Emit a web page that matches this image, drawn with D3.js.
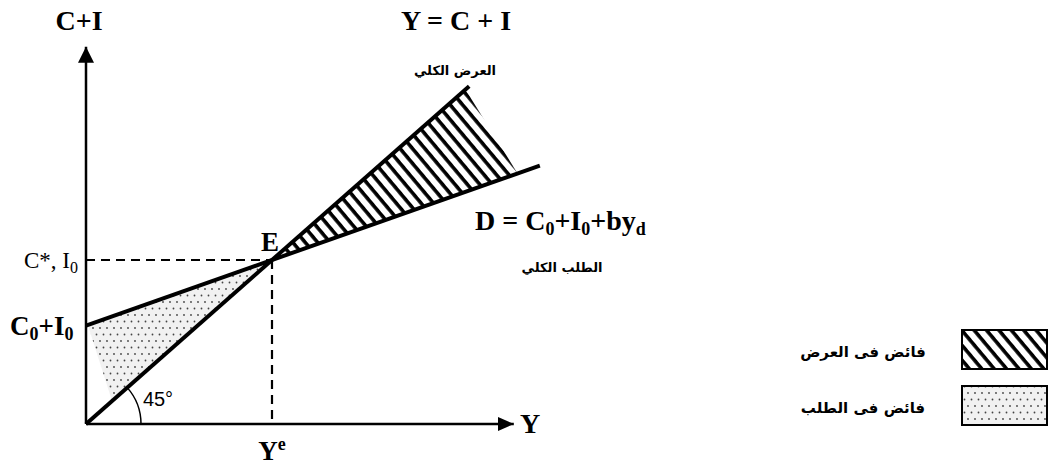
<!DOCTYPE html>
<html lang="en">
<head>
<meta charset="UTF-8">
<script src="https://d3js.org/d3.v7.min.js"></script>
<style>
  body { margin: 0; background: #fff; }
  #plot { position: absolute; width: 100%; height: 100%; }
  .lbl { font-family: "Liberation Serif", "Times New Roman", serif; font-weight: bold; }
  .ar { font-family: "DejaVu Sans", "Noto Sans", sans-serif; font-weight: bold; }
</style>
</head>
<body>
<div id="plot"></div>
<script>
// model values (same units on both axes)
const axisMax = 115;
const intercept = 30;          // C0 + I0
const slopeB = 0.4;            // b
const Ye = 50;                 // equilibrium income
const supplyEnd = 103;         // where Y = C + I line stops
const demandEnd = 122;         // where D line stops
const hatchEdge = [102, 116];  // supply x, demand x closing the hatched area
const dotEdge = [0.5, 7];      // demand x, supply x closing the dotted area
const legendItems = ["فائض فى العرض", "فائض فى الطلب"];

const W = 1049, H = 468;
const svg = d3.select("#plot").append("svg").attr("width", W).attr("height", H);

const x = d3.scaleLinear().domain([0, 100]).range([86, 458]);
const y = d3.scaleLinear().domain([0, 100]).range([424, 96]);
const demand = v => intercept + slopeB * v;

const defs = svg.append("defs");
// diagonal hatch
const hatch = defs.append("pattern").attr("id", "hatch")
  .attr("patternUnits", "userSpaceOnUse").attr("width", 9.5).attr("height", 9.5)
  .attr("patternTransform", "rotate(-40)");
hatch.append("rect").attr("width", 9.5).attr("height", 9.5).attr("fill", "#fff");
hatch.append("line").attr("x1", 2).attr("y1", 0).attr("x2", 2).attr("y2", 9.5)
  .attr("stroke", "#000").attr("stroke-width", 3.6);
// dotted fill
const dots = defs.append("pattern").attr("id", "dots")
  .attr("patternUnits", "userSpaceOnUse").attr("width", 7).attr("height", 13);
dots.append("rect").attr("width", 7).attr("height", 13).attr("fill", "#f1f1f1");
[[2, 3], [5.5, 9.5]].forEach(p => dots.append("circle")
  .attr("cx", p[0]).attr("cy", p[1]).attr("r", 0.9).attr("fill", "#444"));

// arrow markers
defs.append("marker").attr("id", "arrY").attr("viewBox", "0 0 16 16")
  .attr("refX", 16).attr("refY", 8).attr("markerWidth", 16).attr("markerHeight", 16)
  .attr("markerUnits", "userSpaceOnUse").attr("orient", "auto")
  .append("path").attr("d", "M0,0L16,8L0,16Z").attr("fill", "#000");
defs.append("marker").attr("id", "arrX").attr("viewBox", "0 0 16 14")
  .attr("refX", 16).attr("refY", 7).attr("markerWidth", 16).attr("markerHeight", 14)
  .attr("markerUnits", "userSpaceOnUse").attr("orient", "auto")
  .append("path").attr("d", "M0,0L16,7L0,14Z").attr("fill", "#000");

const line = d3.line().x(d => x(d[0])).y(d => y(d[1]));

// shaded areas
svg.append("path")
  .attr("d", line([[Ye, Ye], [hatchEdge[0], hatchEdge[0]], [hatchEdge[1], demand(hatchEdge[1])]]) + "Z")
  .attr("fill", "url(#hatch)");
svg.append("path")
  .attr("d", line([[dotEdge[0], demand(dotEdge[0])], [Ye, Ye], [dotEdge[1], dotEdge[1]]]) + "Z")
  .attr("fill", "url(#dots)");

// axes
svg.append("path").attr("d", line([[0, 0], [0, axisMax]]))
  .attr("stroke", "#000").attr("stroke-width", 2.5).attr("marker-end", "url(#arrY)");
svg.append("path").attr("d", line([[0, 0], [axisMax, 0]]))
  .attr("stroke", "#000").attr("stroke-width", 2.5).attr("marker-end", "url(#arrX)");

// dashed guides
svg.append("path").attr("d", line([[0, Ye], [Ye, Ye]]))
  .attr("stroke", "#000").attr("stroke-width", 2.2).attr("stroke-dasharray", "9,6");
svg.append("path").attr("d", line([[Ye, Ye], [Ye, 0]]))
  .attr("stroke", "#000").attr("stroke-width", 2.2).attr("stroke-dasharray", "9,6");

// 45 degree arc
const ang = Math.atan2(y(0) - y(Ye), x(Ye) - x(0));
const r = 55;
svg.append("path")
  .attr("d", `M${x(0) + r},${y(0)} A${r},${r} 0 0 0 ${x(0) + r * Math.cos(ang)},${y(0) - r * Math.sin(ang)}`)
  .attr("fill", "none").attr("stroke", "#000").attr("stroke-width", 1.5);

// main lines
svg.append("path").attr("d", line([[0, 0], [supplyEnd, supplyEnd]]))
  .attr("stroke", "#000").attr("stroke-width", 4).attr("fill", "none");
svg.append("path").attr("d", line([[0, demand(0)], [demandEnd, demand(demandEnd)]]))
  .attr("stroke", "#000").attr("stroke-width", 4).attr("fill", "none");

// labels
svg.append("text").attr("class", "lbl").attr("x", 79).attr("y", 30)
  .attr("text-anchor", "middle").style("font-size", "28px").text("C+I");
svg.append("text").attr("class", "lbl").attr("x", 456).attr("y", 30)
  .attr("text-anchor", "middle").style("font-size", "28px").text("Y = C + I");
svg.append("text").attr("class", "lbl").attr("x", 520).attr("y", 433)
  .style("font-size", "28px").text("Y");
const ye = svg.append("text").attr("class", "lbl").attr("x", x(Ye)).attr("y", 460)
  .attr("text-anchor", "middle").style("font-size", "27px");
ye.append("tspan").text("Y");
ye.append("tspan").attr("dy", -10).style("font-size", "18px").text("e");
svg.append("text").attr("class", "lbl").attr("x", x(Ye) - 2).attr("y", 251)
  .attr("text-anchor", "middle").style("font-size", "27px").text("E");

const cs = svg.append("text").attr("x", 78).attr("y", 268).attr("text-anchor", "end")
  .style("font-family", "Liberation Serif, serif").style("font-size", "23px");
cs.append("tspan").text("C*, I");
cs.append("tspan").attr("dy", 5).style("font-size", "16px").text("0");

const c0 = svg.append("text").attr("class", "lbl").attr("x", 10).attr("y", 335)
  .style("font-size", "27px");
c0.append("tspan").text("C");
c0.append("tspan").attr("dy", 5).style("font-size", "18px").text("0");
c0.append("tspan").attr("dy", -5).text("+I");
c0.append("tspan").attr("dy", 5).style("font-size", "18px").text("0");

const dl = svg.append("text").attr("class", "lbl").attr("x", 475).attr("y", 230)
  .style("font-size", "28px");
dl.append("tspan").text("D = C");
dl.append("tspan").attr("dy", 5).style("font-size", "18px").text("0");
dl.append("tspan").attr("dy", -5).text("+I");
dl.append("tspan").attr("dy", 5).style("font-size", "18px").text("0");
dl.append("tspan").attr("dy", -5).text("+by");
dl.append("tspan").attr("dy", 5).style("font-size", "18px").text("d");

svg.append("text").attr("x", 158).attr("y", 406).attr("text-anchor", "middle")
  .style("font-family", "Liberation Sans, Arial, sans-serif").style("font-size", "20px").text("45°");

svg.append("text").attr("class", "ar").attr("x", 455).attr("y", 75)
  .attr("text-anchor", "middle").attr("direction", "rtl").style("font-size", "13px").text("العرض الكلي");
svg.append("text").attr("class", "ar").attr("x", 562).attr("y", 272)
  .attr("text-anchor", "middle").attr("direction", "rtl").style("font-size", "13px").text("الطلب الكلي");

// legend
const fills = ["url(#hatch)", "url(#dots)"];
legendItems.forEach((t, i) => {
  const yy = 330 + i * 56;
  svg.append("rect").attr("x", 962).attr("y", yy).attr("width", 85).attr("height", 39)
    .attr("fill", fills[i]).attr("stroke", "#000").attr("stroke-width", 2);
  svg.append("text").attr("class", "ar").attr("x", 863).attr("y", yy + 27)
    .attr("text-anchor", "middle").attr("direction", "rtl").style("font-size", "15px").text(t);
});
</script>
</body>
</html>
